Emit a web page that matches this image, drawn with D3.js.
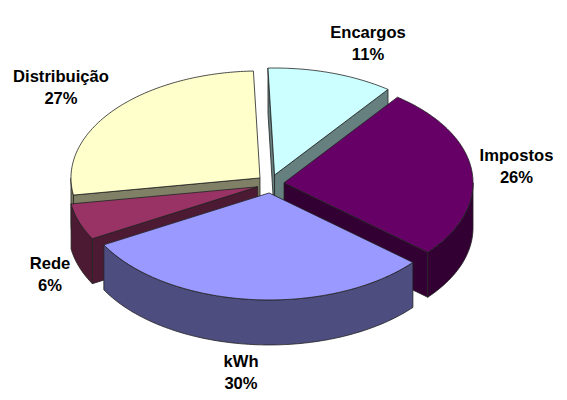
<!DOCTYPE html>
<html>
<head>
<meta charset="utf-8">
<script src="https://cdn.jsdelivr.net/npm/d3@7"></script>
<style>
html,body{margin:0;padding:0;background:#fff}
text{font-family:"Liberation Sans",Arial,sans-serif;font-weight:bold;font-size:16.6px;fill:#000;text-anchor:middle}
</style>
</head>
<body>
<svg id="chart" width="567" height="400"></svg>
<script>
const categories = ["Encargos", "Impostos", "kWh", "Rede", "Distribuição"];
const values = [10.8, 26, 30.7, 5.5, 27];
const percentLabels = ["11%", "26%", "30%", "6%", "27%"];
const topColors = ["#CCFFFF", "#660066", "#9999FF", "#993366", "#FFFFCC"];
const sideColors = ["#668080", "#330033", "#4D4D80", "#4D1A33", "#808066"];
const labelX = [368, 516.5, 241, 50, 61];
const labelY = [38, 161, 367, 269, 82];
const drawOrder = [0, 4, 1, 3, 2];

const svg = d3.select("#chart");
const cx = 270.5, cy = 183.8, rx = 189, ry = 107, depth = 45, explodeX = 13.6, explodeY = 9.2;
const deg = Math.PI / 180;
const start = -2 * deg;

const arcs = d3.pie().sort(null).value(d => d).startAngle(start).endAngle(start + 2 * Math.PI)(values);
const line = d3.line();

function project(a, o, r, dz) {
  return [o[0] + r * rx * Math.sin(a), o[1] - r * ry * Math.cos(a) + dz];
}
function samples(a0, a1) {
  const n = Math.max(2, Math.ceil(Math.abs(a1 - a0) / deg));
  return d3.range(n + 1).map(i => a0 + (a1 - a0) * i / n);
}
const stroke = {stroke: "#222", w: 0.8};
function poly(pts, fill) {
  svg.append("path").attr("d", line(pts) + "Z").attr("fill", fill)
    .attr("stroke", stroke.stroke).attr("stroke-width", stroke.w).attr("stroke-linejoin", "round");
}

drawOrder.forEach(i => {
  const s = arcs[i];
  const mid = (s.startAngle + s.endAngle) / 2;
  const o = [cx + explodeX * Math.sin(mid), cy - explodeY * Math.cos(mid)];
  const side = sideColors[i];
  // visible cut faces
  [[s.startAngle, Math.sin(s.startAngle) < 0], [s.endAngle, Math.sin(s.endAngle) > 0]].forEach(([a, vis]) => {
    if (vis) {
      const p = project(a, o, 1, 0);
      poly([o, p, [p[0], p[1] + depth], [o[0], o[1] + depth]], side);
    }
  });
  // outer wall, the front half of the rim
  const a0 = Math.max(s.startAngle, Math.PI / 2), a1 = Math.min(s.endAngle, 1.5 * Math.PI);
  if (a1 > a0) {
    const ts = samples(a0, a1);
    poly(ts.map(a => project(a, o, 1, 0)).concat(ts.slice().reverse().map(a => project(a, o, 1, depth))), side);
  }
  // top surface
  poly([o].concat(samples(s.startAngle, s.endAngle).map(a => project(a, o, 1, 0))), topColors[i]);
});

categories.forEach((c, i) => {
  const t = svg.append("text").attr("x", labelX[i]).attr("y", labelY[i]);
  t.append("tspan").attr("x", labelX[i]).text(c);
  t.append("tspan").attr("x", labelX[i]).attr("dy", 22).text(percentLabels[i]);
});
</script>
</body>
</html>
